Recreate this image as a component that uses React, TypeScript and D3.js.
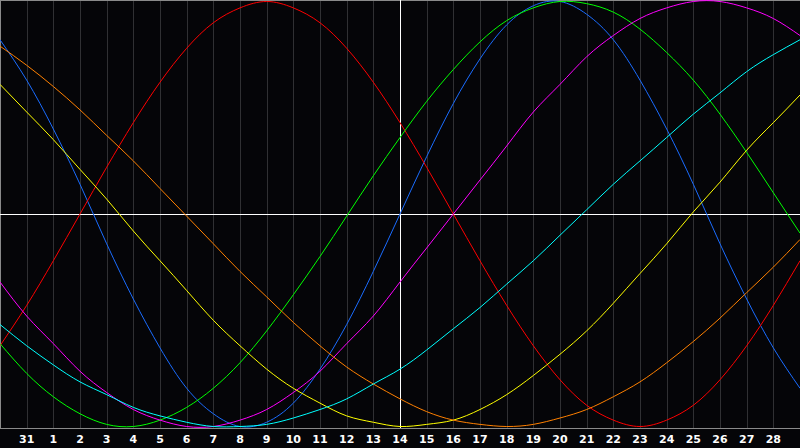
import { useEffect, useRef } from 'react';
import * as d3 from 'd3';

// day labels under grid lines 1..29 (x domain runs 0..30)
const dayLabels = ['31', '1', '2', '3', '4', '5', '6', '7', '8', '9', '10', '11', '12', '13', '14',
    '15', '16', '17', '18', '19', '20', '21', '22', '23', '24', '25', '26', '27', '28'];

// cycle values (percent) sampled at each grid step 0..30
const blue = [82, 63, 40, 14, -14, -40, -63, -82, -94, -100, -98, -89, -73, -52, -27, 0,
    27, 52, 73, 89, 98, 100, 94, 82, 63, 40, 14, -14, -40, -63, -82];
const red = [-62, -43, -22, 0, 22, 43, 62, 78, 90, 97, 100, 97, 90, 78, 62, 43,
    22, 0, -22, -43, -62, -78, -90, -97, -100, -97, -90, -78, -62, -43, -22];
const green = [-61, -75, -86, -94, -99, -100, -97, -91, -82, -70, -55, -38, -20, -1, 18, 36,
    53, 68, 81, 91, 97, 100, 99, 95, 87, 76, 63, 47, 29, 10, -9];
const magenta = [-32, -48, -61, -74, -84, -92, -97, -100, -100, -97, -92, -84, -74, -61, -48, -32,
    -16, 0, 16, 32, 48, 61, 74, 84, 92, 97, 100, 100, 97, 92, 84];
const yellow = [61, 48, 35, 21, 7, -8, -22, -36, -50, -62, -73, -82, -89, -95, -98, -100,
    -99, -97, -92, -85, -76, -66, -55, -42, -28, -14, 1, 15, 30, 43, 56];
const orange = [79, 70, 60, 49, 37, 25, 12, -1, -14, -27, -39, -51, -62, -72, -80, -87,
    -93, -97, -99, -100, -99, -96, -92, -86, -79, -70, -60, -49, -37, -25, -12];
const cyan = [-52, -62, -71, -79, -85, -91, -95, -98, -100, -100, -99, -96, -92, -87, -80, -73,
    -64, -54, -44, -33, -22, -10, 2, 14, 25, 36, 47, 57, 67, 75, 82];

const seriesColors = ['#1a6cff', '#ff0000', '#00ff00', '#ff00ff', '#ffff00', '#ff8000', '#00ffff'];
const seriesValues = [blue, red, green, magenta, yellow, orange, cyan];

export default function App() {
    const ref = useRef<SVGSVGElement>(null);

    useEffect(() => {
        document.body.style.margin = '0';
        document.body.style.background = '#050508';
        if (!ref.current) return;

        const width = 800;
        const height = 448;
        const plotBottom = 428;

        const svg = d3.select(ref.current);
        svg.selectAll('*').remove();
        svg.attr('width', width).attr('height', height);

        svg.append('rect')
            .attr('width', width)
            .attr('height', height)
            .attr('fill', '#050508');

        const x = d3.scaleLinear().domain([0, 30]).range([0, width]);
        const y = d3.scaleLinear().domain([-100, 100]).range([plotBottom - 1.5, 1.5]);

        // vertical day grid
        svg.append('g')
            .attr('shape-rendering', 'crispEdges')
            .selectAll('line')
            .data(dayLabels)
            .join('line')
            .attr('x1', (_, i) => Math.round(x(i + 1)) + 0.5)
            .attr('x2', (_, i) => Math.round(x(i + 1)) + 0.5)
            .attr('y1', 0)
            .attr('y2', plotBottom)
            .attr('stroke', '#303033')
            .attr('stroke-width', 1);

        // frame
        svg.append('path')
            .attr('d', `M0.5,${plotBottom + 0.5}V0.5H${width}M0,${plotBottom + 0.5}H${width}`)
            .attr('fill', 'none')
            .attr('shape-rendering', 'crispEdges')
            .attr('stroke', '#8a8a8a')
            .attr('stroke-width', 1);

        // today marker + zero line
        svg.append('line')
            .attr('x1', 0).attr('x2', width)
            .attr('y1', Math.round(y(0)) + 0.5).attr('y2', Math.round(y(0)) + 0.5)
            .attr('shape-rendering', 'crispEdges')
            .attr('stroke', '#ffffff');
        svg.append('line')
            .attr('x1', x(15) + 0.5).attr('x2', x(15) + 0.5)
            .attr('y1', 0).attr('y2', plotBottom)
            .attr('shape-rendering', 'crispEdges')
            .attr('stroke', '#ffffff');

        const line = d3.line<number>()
            .x((_, i) => x(i))
            .y(d => y(d))
            .curve(d3.curveNatural);

        svg.append('g')
            .selectAll('path')
            .data(seriesValues)
            .join('path')
            .attr('d', d => line(d) as string)
            .attr('fill', 'none')
            .attr('stroke', (_, i) => seriesColors[i])
            .attr('stroke-width', 1);

        // day labels
        svg.append('g')
            .selectAll('text')
            .data(dayLabels)
            .join('text')
            .attr('x', (_, i) => x(i + 1))
            .attr('y', 443)
            .attr('text-anchor', 'middle')
            .attr('fill', '#ffffff')
            .attr('font-size', '11px')
            .attr('font-weight', 'bold')
            .attr('font-family', 'DejaVu Sans, sans-serif')
            .text(d => d);
    }, []);

    return <svg ref={ref} style={{ display: 'block' }} />;
}
